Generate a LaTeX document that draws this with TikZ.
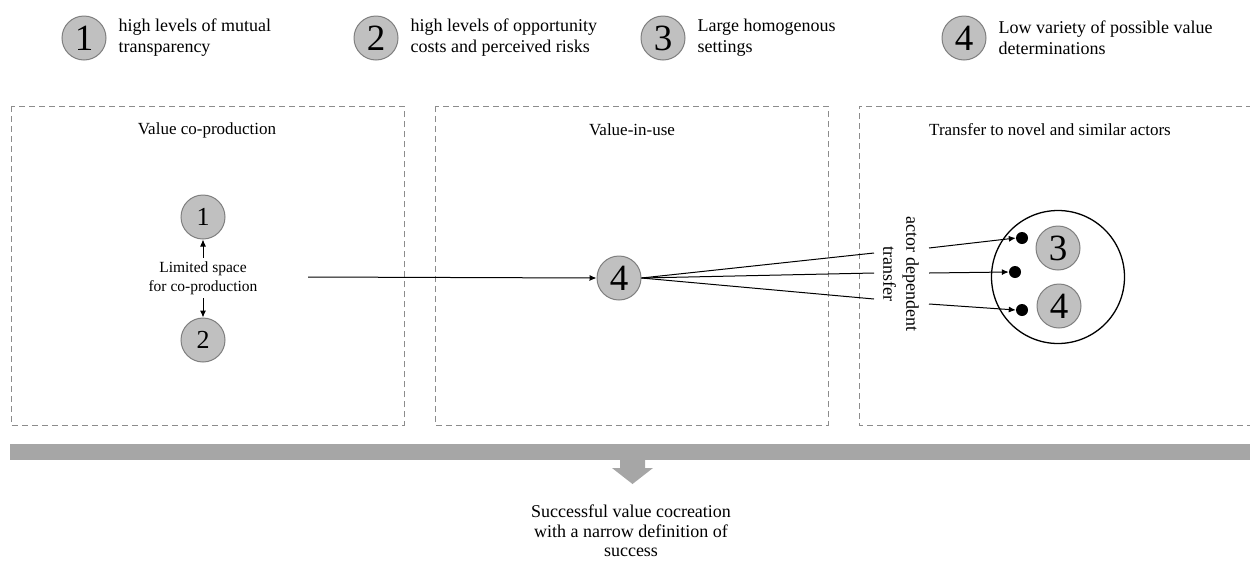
\documentclass[tikz,border=0pt]{standalone}
\usepackage{fontspec}
\setmainfont{Liberation Serif}
\usetikzlibrary{arrows.meta}
\definecolor{numfill}{HTML}{C0C0C0}
\definecolor{numline}{HTML}{7F7F7F}
\definecolor{boxline}{HTML}{8C8C8C}
\definecolor{barfill}{HTML}{A6A6A6}
\begin{document}
\begin{tikzpicture}[x=1pt,y=-1pt,
  numc/.style={circle,draw=numline,fill=numfill,line width=1pt,minimum size=44pt,inner sep=0pt,font=\fontsize{37}{37}\selectfont},
  numsmall/.style={numc,font=\fontsize{26}{26}\selectfont},
  legtext/.style={anchor=west,align=left,font=\fontsize{18}{21}\selectfont},
  stage/.style={draw=boxline,dashed,dash pattern=on 6pt off 4pt,line width=0.9pt},
  title/.style={font=\fontsize{17}{20}\selectfont},
  conn/.style={line width=1pt},
  arr/.style={conn,-{Latex[length=7pt,width=6pt]}},
  dot/.style={circle,fill=black,minimum size=12pt,inner sep=0pt}]
\useasboundingbox (0,0) rectangle (1250,563);

% legend
\node[numc] (l1) at (84,38) {1};
\node[legtext] (t1) at (115,38) {high levels of mutual\\transparency};
\node[numc] (l2) at (376,38) {2};
\node[legtext] (t2) at (407,38) {high levels of opportunity\\costs and perceived risks};
\node[numc] (l3) at (663,38) {3};
\node[legtext] (t3) at (694,38) {Large homogenous\\settings};
\node[numc] (l4) at (964,38) {4};
\node[legtext] (t4) at (995,38) {Low variety of possible value\\determinations};

% stages
\draw[stage] (11,106) rectangle (404,425);
\draw[stage] (435,106) rectangle (828,425);
\draw[stage] (1252,106) -- (859,106) -- (859,425) -- (1252,425);
\node[title] (s1) at (207,130) {Value co-production};
\node[title] (s2) at (632,130) {Value-in-use};
\node[title] (s3) at (1050,130) {Transfer to novel and similar actors};

% value co-production
\node[numsmall] (c1) at (203,217) {1};
\node[numsmall] (c2) at (203,340) {2};
\node[align=center,font=\fontsize{15.5}{19}\selectfont] (lim) at (203,278) {Limited space\\for co-production};
\draw[arr] (lim.north) -- (c1.south);
\draw[arr] (lim.south) -- (c2.north);

% value-in-use
\node[numc] (c4) at (619,278) {4};
\coordinate (src) at (308,277);
\draw[arr] (src) -- (c4.west);
\coordinate (f1) at (874,253);
\coordinate (f2) at (874,273);
\coordinate (f3) at (874,299);
\draw[conn] (c4.east) -- (f1);
\draw[conn] (c4.east) -- (f2);
\draw[conn] (c4.east) -- (f3);
\node[rotate=-90,align=center,font=\fontsize{18}{23}\selectfont] (adt) at (901,274) {actor dependent\\transfer};

% transfer
\node[circle,draw=black,line width=1.3pt,minimum size=133pt,inner sep=0pt] (big) at (1058,277) {};
\node[numc] (c3b) at (1058,248) {3};
\node[numc] (c4b) at (1059,306) {4};
\node[dot] (d1) at (1022,238) {};
\node[dot] (d2) at (1015,272) {};
\node[dot] (d3) at (1022,310) {};
\coordinate (g1) at (929,248);
\coordinate (g2) at (929,273);
\coordinate (g3) at (929,304);
\draw[arr] (g1) -- (d1.west);
\draw[arr] (g2) -- (d2.west);
\draw[arr] (g3) -- (d3.west);

% outcome bar and arrow
\fill[barfill] (10,444) rectangle (1250,460);
\fill[barfill] (620,460) -- (645,460) -- (645,468) -- (653,468) -- (632.5,484) -- (612,468) -- (620,468) -- cycle;
\node[align=center,font=\fontsize{18}{19.5}\selectfont] (out) at (631,531) {Successful value cocreation\\with a narrow definition of\\success};
\end{tikzpicture}
\end{document}
